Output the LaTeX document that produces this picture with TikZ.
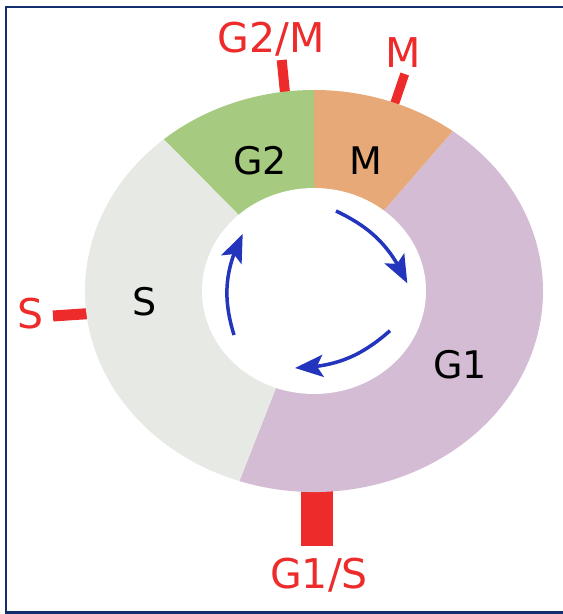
\documentclass[tikz,border=0pt]{standalone}
\usepackage{fontspec}
\newfontfamily\labfont{DejaVu Sans}
\usetikzlibrary{arrows.meta,bending}
\definecolor{cG1}{HTML}{D4BCD4}
\definecolor{cS}{HTML}{E7E9E5}
\definecolor{cGtwo}{HTML}{A6CB80}
\definecolor{cM}{HTML}{E6A977}
\definecolor{cred}{HTML}{EE2B2B}
\definecolor{cblue}{HTML}{2334BD}
\definecolor{cnavy}{HTML}{152F6E}
\tikzset{
  phase/.style={font=\labfont\fontsize{38}{40}\selectfont, text=black, anchor=base, inner sep=0pt},
  checkpt/.style={font=\labfont\fontsize{41}{43}\selectfont, text=cred, anchor=base, inner sep=0pt},
  tickmark/.style={draw=cred, line cap=butt},
  cyc/.style={draw=cblue, line width=3.5, -{Stealth[length=28pt, width=22pt, inset=6pt]}},
}
\newcommand\ringpart[3]{\fill[#3] (C) -- ++(#1:229 and 201) arc[start angle=#1, end angle=#2, x radius=229, y radius=201] -- cycle;}
\begin{document}
\begin{tikzpicture}[x=1pt,y=1pt]
\useasboundingbox (0,0) rectangle (563,614);
\fill[white] (0,0) rectangle (563,614);
% frame
\draw[cnavy, line width=2.5] (563,607) -- (6,607) -- (6,1.7) -- (563,1.7);
% checkpoint ticks
\coordinate (t1a) at (281.7,554); \coordinate (t1b) at (285.3,518);
\coordinate (t2a) at (404.7,540); \coordinate (t2b) at (393.8,508);
\coordinate (t3a) at (53,298);    \coordinate (t3b) at (90,300.5);
\draw[tickmark, line width=10] (t1a) -- (t1b);
\draw[tickmark, line width=9] (t2a) -- (t2b);
\draw[tickmark, line width=11] (t3a) -- (t3b);
\fill[cred] (301,68) rectangle (333,126);
% ring
\coordinate (C) at (314,323);
\ringpart{-109}{52.7}{cG1}
\ringpart{52.7}{90}{cM}
\ringpart{90}{131}{cGtwo}
\ringpart{131}{251}{cS}
\fill[white] (C) ellipse[x radius=112, y radius=103];
% phase labels
\node[phase] (lG2) at (260,439) {G2};
\node[phase] (lM) at (366,439) {M};
\node[phase] (lS) at (145,298) {S};
\node[phase] (lG1) at (460,235) {G1};
% checkpoint labels
\node[checkpt] (cG2M) at (271.5,561) {G2/M};
\node[checkpt] (cMM) at (403,546) {M};
\node[checkpt] (cSS) at (31,285) {S};
\node[checkpt] (cG1S) at (319,26) {G1/S};
% cycle arrows
\coordinate (a1s) at (336,403);   \coordinate (a1e) at (407.3,330.7);
\coordinate (a2s) at (390,283.3); \coordinate (a2e) at (295,246);
\coordinate (a3s) at (234,279);   \coordinate (a3e) at (242.7,380);
\draw[cyc] (a1s) to[bend left=20] (a1e);
\draw[cyc] (a2s) to[bend left=20] (a2e);
\draw[cyc] (a3s) to[bend left=22] (a3e);
\end{tikzpicture}
\end{document}
